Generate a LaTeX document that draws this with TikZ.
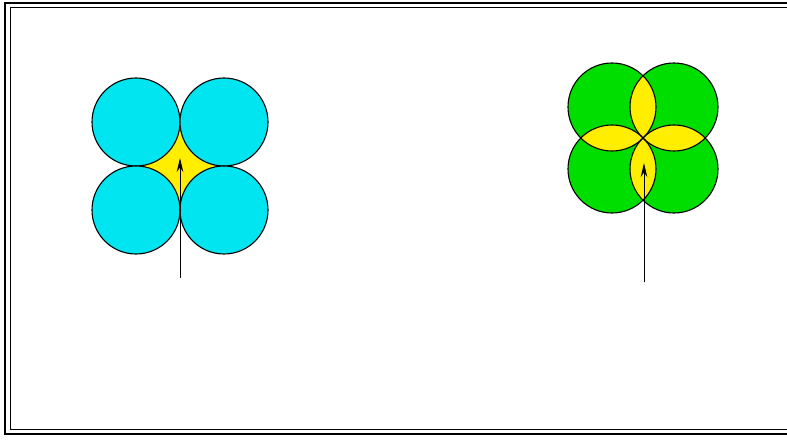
\documentclass[tikz,border=0pt]{standalone}
\usepackage{xcolor}
\usepackage{tikz}
\usetikzlibrary{arrows.meta}

\definecolor{ballcyan}{RGB}{0,229,240}
\definecolor{ballgreen}{RGB}{0,222,0}
\definecolor{gapyellow}{RGB}{255,238,0}

\begin{document}
\begin{tikzpicture}[x=1pt, y=-1pt, >={Stealth[length=14pt, width=6.5pt]},
    ball/.style={draw=black, line width=1.1pt}]
    \useasboundingbox (0,0) rectangle (787,441);
    % frame
    \draw [line width=2.8pt] (790,3) -- (5,3) -- (5,434) -- (790,434);
    \draw [line width=1pt] (790,8) -- (10,8) -- (10,429) -- (790,429);

    % touching balls
    \fill [gapyellow] (136,122) rectangle (224,210);
    \foreach \cx/\cy in {136/122, 224/122, 136/210, 224/210}
        \filldraw [ball, fill=ballcyan] (\cx,\cy) circle (44pt);
    \coordinate (tailA) at (180,278);
    \coordinate (tipA) at (180,158);
    \draw [->, line width=1pt] (tailA) -- (tipA);

    % overlapping balls
    \foreach \cx/\cy in {612/107, 674/107, 612/169, 674/169}
        \fill [ballgreen] (\cx,\cy) circle (44pt);
    \foreach \ax/\ay/\bx/\by in {612/107/674/107, 674/107/674/169, 674/169/612/169, 612/169/612/107} {
        \begin{scope}
            \clip (\ax,\ay) circle (44pt);
            \fill [gapyellow] (\bx,\by) circle (44pt);
        \end{scope}
    }
    \foreach \cx/\cy in {612/107, 674/107, 612/169, 674/169}
        \draw [ball] (\cx,\cy) circle (44pt);
    \coordinate (tailB) at (644,282);
    \coordinate (tipB) at (644,163);
    \draw [->, line width=1pt] (tailB) -- (tipB);
\end{tikzpicture}
\end{document}
